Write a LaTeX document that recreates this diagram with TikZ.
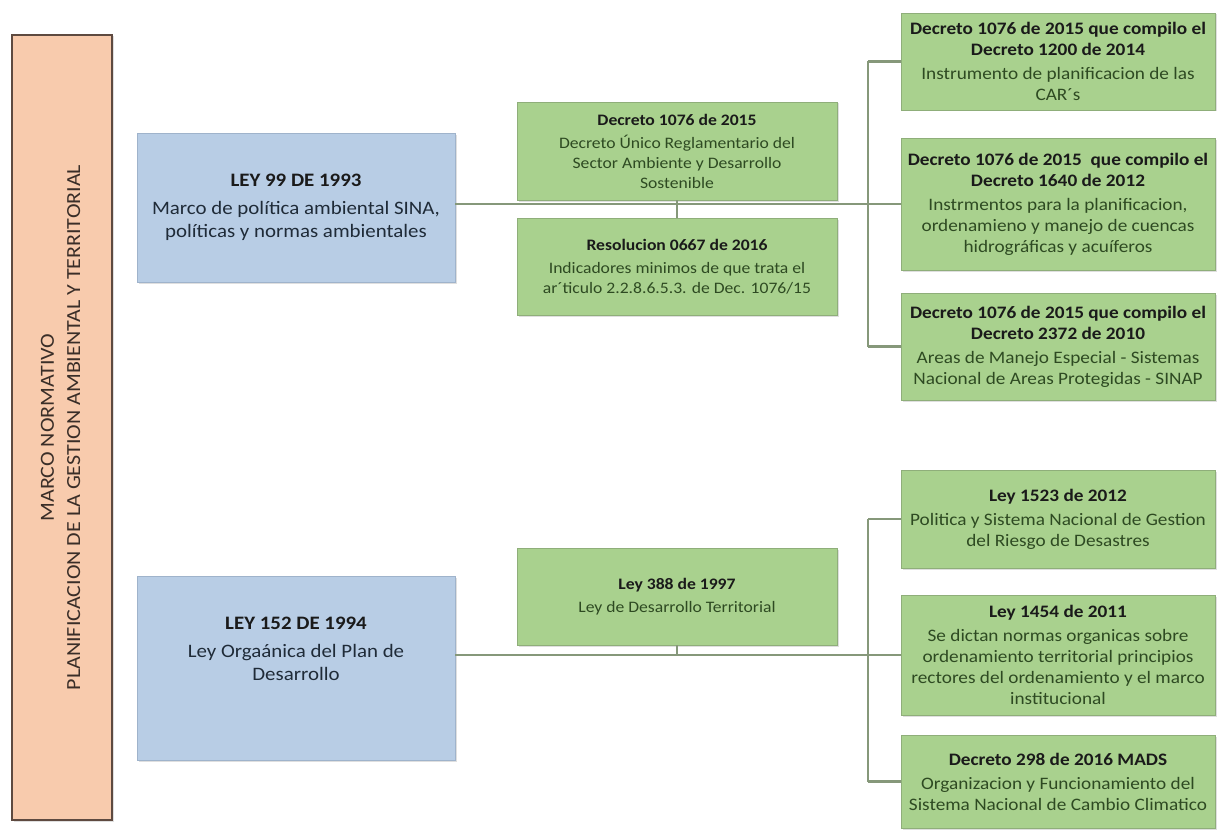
\documentclass[tikz,border=0pt]{standalone}
\usepackage{fontspec}
\setmainfont{Carlito}[FakeStretch=1.1]
\usetikzlibrary{shadows}
\definecolor{orfill}{HTML}{F8CBAD}
\definecolor{orline}{HTML}{5E4A40}
\definecolor{blfill}{HTML}{B8CDE5}
\definecolor{blline}{HTML}{9FB3CB}
\definecolor{grfill}{HTML}{A9D18E}
\definecolor{grline}{HTML}{8FAE7A}
\definecolor{conncol}{HTML}{86987A}
\definecolor{ttlcol}{HTML}{1A1A1A}
\definecolor{grtext}{HTML}{2E4A22}
\definecolor{bltext}{HTML}{1F2B38}
\definecolor{ortext}{HTML}{3A2E28}
\newcommand{\ttl}[1]{{\color{ttlcol}\bfseries #1}}
\begin{document}
\begin{tikzpicture}[x=1pt,y=-1pt,
  boxbase/.style={draw, align=center, inner sep=0pt,
    drop shadow={shadow xshift=1.5pt, shadow yshift=-1.5pt, opacity=0.25}},
  gbox/.style={boxbase, fill=grfill, draw=grline, line width=0.8pt, text=grtext,
    font=\fontsize{17.5}{21}\selectfont, minimum width=314},
  mbox/.style={boxbase, fill=grfill, draw=grline, line width=0.8pt, text=grtext,
    font=\fontsize{16}{20}\selectfont, minimum width=320},
  bbox/.style={boxbase, fill=blfill, draw=blline, line width=0.8pt, text=bltext,
    font=\fontsize{19}{23.5}\selectfont, minimum width=318},
  obox/.style={boxbase, fill=orfill, draw=orline, line width=1.3pt, text=ortext,
    font=\fontsize{20}{25}\selectfont, minimum width=100, minimum height=785},
  conn/.style={draw=conncol, line width=2.2pt}]
\useasboundingbox (0,0) rectangle (1217,832);
\fill[white] (0,0) rectangle (1217,832);

% left title
\node[obox] (marco) at (62,427.5) {\rotatebox{90}{\begin{tabular}{@{}c@{}}MARCO NORMATIVO\\[1pt] PLANIFICACION DE LA GESTION AMBIENTAL Y TERRITORIAL\end{tabular}}};

% upper section
\node[bbox, minimum height=149] (ley99) at (296,207.5) {\ttl{LEY 99 DE 1993}\\[4pt] Marco de política ambiental SINA,\\ políticas y normas ambientales};
\node[mbox, minimum height=98] (d1076) at (677,151) {\ttl{Decreto 1076 de 2015}\\[3pt] Decreto Único Reglamentario del\\ Sector Ambiente y Desarrollo\\ Sostenible};
\node[mbox, minimum height=97] (r0667) at (677,266.5) {\ttl{Resolucion 0667 de 2016}\\[3pt] Indicadores minimos de que trata el\\ ar´ticulo 2.2.8.6.5.3. de Dec. 1076/15};
\node[gbox, minimum height=97] (ra) at (1058,61.5) {\ttl{Decreto 1076 de 2015 que compilo el}\\ \ttl{Decreto 1200 de 2014}\\[3pt] Instrumento de planificacion de las\\ CAR´s};
\node[gbox, minimum height=132] (rb) at (1058,204) {\ttl{Decreto 1076 de 2015\ \ que compilo el}\\ \ttl{Decreto 1640 de 2012}\\[3pt] Instrmentos para la planificacion,\\ ordenamieno y manejo de cuencas\\ hidrográficas y acuíferos};
\node[gbox, minimum height=107] (rc) at (1058,346.5) {\ttl{Decreto 1076 de 2015 que compilo el}\\ \ttl{Decreto 2372 de 2010}\\[3pt] Areas de Manejo Especial - Sistemas\\ Nacional de Areas Protegidas - SINAP};

% lower section
\node[bbox, minimum height=184] (ley152) at (296,668) {\ttl{LEY 152 DE 1994}\\[4pt] Ley Orgaánica del Plan de\\ Desarrollo\\[14pt]\mbox{}};
\node[mbox, minimum height=97] (ley388) at (677,596.5) {\ttl{Ley 388 de 1997}\\[3pt] Ley de Desarrollo Territorial};
\node[gbox, minimum height=98] (re) at (1058,519) {\ttl{Ley 1523 de 2012}\\[3pt] Politica y Sistema Nacional de Gestion\\ del Riesgo de Desastres};
\node[gbox, minimum height=120] (rf) at (1058,655) {\ttl{Ley 1454 de 2011}\\[3pt] Se dictan normas organicas sobre\\ ordenamiento territorial principios\\ rectores del ordenamiento y el marco\\ institucional};
\node[gbox, minimum height=93] (rg) at (1058,781.5) {\ttl{Decreto 298 de 2016 MADS}\\[3pt] Organizacion y Funcionamiento del\\ Sistema Nacional de Cambio Climatico};

% connectors
\coordinate (vx) at (868,0);
\draw[conn] (ley99.east |- rb.west) -- (rb.west);
\draw[conn] (vx |- ra.west) -- (vx |- rc.west);
\draw[conn] (vx |- ra.west) -- (ra.west);
\draw[conn] (vx |- rc.west) -- (rc.west);
\draw[conn] (d1076.south) -- (r0667.north);

\draw[conn] (ley152.east |- rf.west) -- (rf.west);
\draw[conn] (vx |- re.west) -- (vx |- rg.west);
\draw[conn] (vx |- re.west) -- (re.west);
\draw[conn] (vx |- rg.west) -- (rg.west);
\draw[conn] (ley388.south) -- (ley388.south |- rf.west);
\end{tikzpicture}
\end{document}
